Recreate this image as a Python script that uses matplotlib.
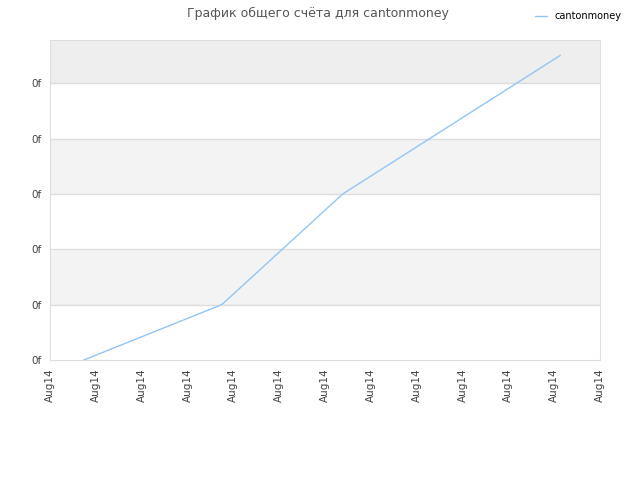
import matplotlib
matplotlib.use('Agg')
import matplotlib.pyplot as plt

# score history (x in tick steps, y in gridline units)
x_vals = [0.74, 3.75, 6.39, 11.13]
y_vals = [0.0, 1.0, 3.0, 5.5]
x_ticks = list(range(13))
x_labels = ['Aug14'] * 13
y_ticks = [0, 1, 2, 3, 4, 5]
y_labels = ['0f'] * 6
series_name = 'cantonmoney'
title = 'График общего счёта для cantonmoney'

fig = plt.figure(figsize=(6.4, 4.8), dpi=100)
ax = fig.add_axes([0.078, 0.25, 0.8595, 0.6667])

ymax = 5.78
ax.set_xlim(0, 12)
ax.set_ylim(0, ymax)

# alternating bands
for i in range(6):
    if i % 2 == 1:
        ax.axhspan(i, min(i + 1, ymax), color='#f3f3f3' if i < 5 else '#eeeeee', zorder=0, lw=0)
for y in y_ticks[1:]:
    ax.axhline(y, color='#dddddd', lw=1, zorder=1)

ax.plot(x_vals, y_vals, color='#92c5f7', lw=1, zorder=3, label=series_name)

ax.set_xticks(x_ticks)
ax.set_xticklabels(x_labels, rotation=90, fontsize=7.5, color='#444444')
ax.set_yticks(y_ticks)
ax.set_yticklabels(y_labels, fontsize=7.5, color='#444444')
ax.tick_params(length=0, pad=6)
for s in ax.spines.values():
    s.set_color('#dddddd')

fig.text(0.497, 0.972, title, ha='center', va='center', fontsize=9, color='#555555')
fig.legend(loc='upper right', bbox_to_anchor=(0.985, 0.995), frameon=False,
           fontsize=7, handlelength=1.2, handletextpad=0.8)

fig.savefig('out.png', dpi=100)
